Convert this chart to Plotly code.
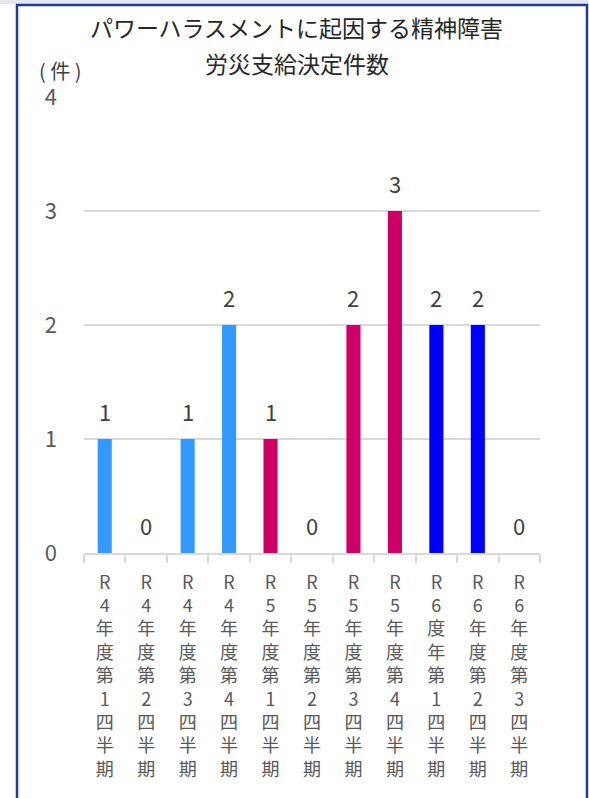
import plotly.graph_objects as go

# ---- data ----
categories = [
    "R4年度第1四半期", "R4年度第2四半期", "R4年度第3四半期", "R4年度第4四半期",
    "R5年度第1四半期", "R5年度第2四半期", "R5年度第3四半期", "R5年度第4四半期",
    "R6度年第1四半期", "R6年度第2四半期", "R6年度第3四半期",
]
values = [1, 0, 1, 2, 1, 0, 2, 3, 2, 2, 0]
bar_colors = ["#3399FF"] * 4 + ["#CC0066"] * 4 + ["#0000FF"] * 3
y_ticks = [0, 1, 2, 3, 4]
title_line1 = "パワーハラスメントに起因する精神障害"
title_line2 = "労災支給決定件数"
unit_label = "( 件 )"

# vertical tick labels: one character per line
tick_text = ["<br>".join(list(c)) for c in categories]

FONT = "Noto Sans CJK JP"
W, H = 589, 798
ML, MR, MT, MB = 84, 49, 97, 245
PW = W - ML - MR
PH = H - MT - MB


def px_x(px):
    return (px - ML) / PW


def px_y(py):
    return (H - MB - py) / PH


fig = go.Figure()
fig.add_trace(go.Bar(
    x=categories,
    y=values,
    marker=dict(color=bar_colors, line=dict(width=0)),
    hoverinfo="x+y",
))

annotations = []
for c, v in zip(categories, values):
    annotations.append(dict(
        x=c, y=v, xref="x", yref="y", text=str(v), showarrow=False,
        yanchor="bottom", yshift=10,
        font=dict(family=FONT, size=22, color="#404040"),
    ))

annotations += [
    dict(x=px_x(296), y=px_y(27), xref="paper", yref="paper", text=title_line1,
         showarrow=False, xanchor="center", yanchor="middle",
         font=dict(family=FONT, size=23, color="#262626")),
    dict(x=px_x(297), y=px_y(63), xref="paper", yref="paper", text=title_line2,
         showarrow=False, xanchor="center", yanchor="middle",
         font=dict(family=FONT, size=23, color="#262626")),
    dict(x=px_x(60), y=px_y(71), xref="paper", yref="paper", text=unit_label,
         showarrow=False, xanchor="center", yanchor="middle",
         font=dict(family=FONT, size=20, color="#404040")),
]

shapes = [
    dict(type="rect", xref="paper", yref="paper",
         x0=px_x(0), x1=px_x(W), y0=px_y(0), y1=px_y(4),
         fillcolor="#E6E8EE", line=dict(width=0), layer="below"),
    dict(type="rect", xref="paper", yref="paper",
         x0=px_x(17), x1=px_x(587), y0=px_y(5), y1=px_y(H + 20),
         fillcolor="rgba(0,0,0,0)", line=dict(color="#1F3C96", width=2.5)),
]

fig.update_layout(
    width=W, height=H,
    margin=dict(l=ML, r=MR, t=MT, b=MB, pad=0),
    paper_bgcolor="white", plot_bgcolor="white",
    bargap=0.66,
    showlegend=False,
    font=dict(family=FONT, color="#595959"),
    annotations=annotations,
    shapes=shapes,
    xaxis=dict(
        type="category",
        tickmode="array", tickvals=categories, ticktext=tick_text,
        tickfont=dict(family=FONT, size=18, color="#595959"),
        showline=True, linecolor="#D9D9D9", linewidth=2,
        ticks="outside", tickson="boundaries", ticklen=8,
        tickcolor="#D9D9D9", tickwidth=2,
        ticklabelstandoff=12,
        showgrid=False, fixedrange=True,
    ),
    yaxis=dict(
        range=[0, 4], tickvals=y_ticks,
        tickfont=dict(family=FONT, size=22, color="#595959"),
        showgrid=True, gridcolor="#D9D9D9", gridwidth=2,
        zeroline=False, showline=False, ticks="",
        ticklabelstandoff=26, fixedrange=True,
    ),
)

fig.write_html("out.html")
